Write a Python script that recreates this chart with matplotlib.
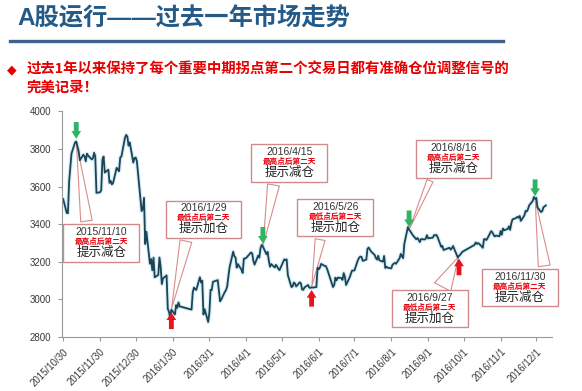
import numpy as np
import pandas as pd
import matplotlib
matplotlib.use("Agg")
import matplotlib.pyplot as plt
import matplotlib.dates as mdates
from matplotlib.offsetbox import TextArea, VPacker, AnnotationBbox

plt.rcParams['font.family'] = ['Liberation Sans', 'Noto Sans CJK SC', 'DejaVu Sans']

# index closes (trading days)
dates = [
    "2015-10-30", "2015-11-02", "2015-11-03", "2015-11-04", "2015-11-05", "2015-11-06", "2015-11-09",
    "2015-11-10", "2015-11-11", "2015-11-12", "2015-11-13", "2015-11-16", "2015-11-17", "2015-11-18",
    "2015-11-19", "2015-11-20", "2015-11-23", "2015-11-24", "2015-11-25", "2015-11-26", "2015-11-27",
    "2015-11-30", "2015-12-01", "2015-12-02", "2015-12-03", "2015-12-04", "2015-12-07", "2015-12-08",
    "2015-12-09", "2015-12-10", "2015-12-11", "2015-12-14", "2015-12-15", "2015-12-16", "2015-12-17",
    "2015-12-18", "2015-12-21", "2015-12-22", "2015-12-23", "2015-12-24", "2015-12-25", "2015-12-28",
    "2015-12-29", "2015-12-30", "2015-12-31",
    "2016-01-04", "2016-01-05", "2016-01-06", "2016-01-07", "2016-01-08", "2016-01-11", "2016-01-12",
    "2016-01-13", "2016-01-14", "2016-01-15", "2016-01-18", "2016-01-19", "2016-01-20", "2016-01-21",
    "2016-01-22", "2016-01-25", "2016-01-26", "2016-01-27", "2016-01-28", "2016-01-29",
    "2016-02-01", "2016-02-02", "2016-02-03", "2016-02-04", "2016-02-05", "2016-02-15", "2016-02-16",
    "2016-02-17", "2016-02-18", "2016-02-19", "2016-02-22", "2016-02-23", "2016-02-24", "2016-02-25",
    "2016-02-26", "2016-02-29",
    "2016-03-01", "2016-03-02", "2016-03-03", "2016-03-04", "2016-03-07", "2016-03-08", "2016-03-09",
    "2016-03-10", "2016-03-11", "2016-03-14", "2016-03-15", "2016-03-16", "2016-03-17", "2016-03-18",
    "2016-03-21", "2016-03-22", "2016-03-23", "2016-03-24", "2016-03-25", "2016-03-28", "2016-03-29",
    "2016-03-30", "2016-03-31",
    "2016-04-01", "2016-04-05", "2016-04-06", "2016-04-07", "2016-04-08", "2016-04-11", "2016-04-12",
    "2016-04-13", "2016-04-14", "2016-04-15", "2016-04-18", "2016-04-19", "2016-04-20", "2016-04-21",
    "2016-04-22", "2016-04-25", "2016-04-26", "2016-04-27", "2016-04-28", "2016-04-29",
    "2016-05-03", "2016-05-04", "2016-05-05", "2016-05-06", "2016-05-09", "2016-05-10", "2016-05-11",
    "2016-05-12", "2016-05-13", "2016-05-16", "2016-05-17", "2016-05-18", "2016-05-19", "2016-05-20",
    "2016-05-23", "2016-05-24", "2016-05-25", "2016-05-26", "2016-05-27", "2016-05-30", "2016-05-31",
    "2016-06-01", "2016-06-02", "2016-06-03", "2016-06-06", "2016-06-07", "2016-06-08", "2016-06-13",
    "2016-06-14", "2016-06-15", "2016-06-16", "2016-06-17", "2016-06-20", "2016-06-21", "2016-06-22",
    "2016-06-23", "2016-06-24", "2016-06-27", "2016-06-28", "2016-06-29", "2016-06-30",
    "2016-07-01", "2016-07-04", "2016-07-05", "2016-07-06", "2016-07-07", "2016-07-08", "2016-07-11",
    "2016-07-12", "2016-07-13", "2016-07-14", "2016-07-15", "2016-07-18", "2016-07-19", "2016-07-20",
    "2016-07-21", "2016-07-22", "2016-07-25", "2016-07-26", "2016-07-27", "2016-07-28", "2016-07-29",
    "2016-08-01", "2016-08-02", "2016-08-03", "2016-08-04", "2016-08-05", "2016-08-08", "2016-08-09",
    "2016-08-10", "2016-08-11", "2016-08-12", "2016-08-15", "2016-08-16", "2016-08-17", "2016-08-18",
    "2016-08-19", "2016-08-22", "2016-08-23", "2016-08-24", "2016-08-25", "2016-08-26", "2016-08-29",
    "2016-08-30", "2016-08-31",
    "2016-09-01", "2016-09-02", "2016-09-05", "2016-09-06", "2016-09-07", "2016-09-08", "2016-09-09",
    "2016-09-12", "2016-09-13", "2016-09-14", "2016-09-19", "2016-09-20", "2016-09-21", "2016-09-22",
    "2016-09-23", "2016-09-26", "2016-09-27", "2016-09-28", "2016-09-29", "2016-09-30",
    "2016-10-10", "2016-10-11", "2016-10-12", "2016-10-13", "2016-10-14", "2016-10-17", "2016-10-18",
    "2016-10-19", "2016-10-20", "2016-10-21", "2016-10-24", "2016-10-25", "2016-10-26", "2016-10-27",
    "2016-10-28", "2016-10-31",
    "2016-11-01", "2016-11-02", "2016-11-03", "2016-11-04", "2016-11-07", "2016-11-08", "2016-11-09",
    "2016-11-10", "2016-11-11", "2016-11-14", "2016-11-15", "2016-11-16", "2016-11-17", "2016-11-18",
    "2016-11-21", "2016-11-22", "2016-11-23", "2016-11-24", "2016-11-25", "2016-11-28", "2016-11-29",
    "2016-11-30",
    "2016-12-01", "2016-12-02", "2016-12-05", "2016-12-06", "2016-12-07", "2016-12-08", "2016-12-09",
]
closes = [
    3534, 3460, 3459, 3627, 3705, 3776, 3835,
    3840, 3815, 3790, 3740, 3770, 3760, 3735,
    3775, 3765, 3745, 3750, 3780, 3760, 3567,
    3570, 3580, 3742, 3760, 3675, 3690, 3620,
    3630, 3612, 3620, 3700, 3690, 3682, 3755,
    3760, 3860, 3875, 3866, 3818, 3835, 3728,
    3752, 3755, 3735,
    3470, 3480, 3540, 3295, 3360, 3190, 3215,
    3155, 3222, 3118, 3130, 3223, 3174, 3082,
    3112, 3128, 2950, 2935, 2900, 2946,
    2920, 2970, 2955, 2984, 2963, 2946, 3037,
    3063, 3054, 3051, 3118, 3090, 3100, 2920,
    2948, 2880,
    2930, 3051, 3050, 3094, 3100, 3103, 3045,
    2990, 3000, 3040, 3050, 3070, 3123, 3171,
    3254, 3230, 3223, 3169, 3188, 3158, 3141,
    3217, 3218,
    3221, 3250, 3245, 3205, 3185, 3233, 3223,
    3272, 3290, 3282, 3240, 3253, 3206, 3174,
    3188, 3170, 3184, 3175, 3163, 3156,
    3213, 3209, 3213, 3130, 3066, 3069, 3090,
    3085, 3069, 3091, 3085, 3053, 3051, 3064,
    3077, 3063, 3061, 3065, 3063, 3066, 3169,
    3160, 3170, 3189, 3178, 3177, 3163, 3066,
    3076, 3116, 3101, 3116, 3114, 3104, 3140,
    3120, 3077, 3117, 3136, 3153, 3154,
    3154, 3210, 3222, 3228, 3226, 3205, 3212,
    3269, 3276, 3265, 3255, 3237, 3221, 3212,
    3232, 3208, 3201, 3231, 3167, 3174, 3169,
    3165, 3184, 3190, 3194, 3190, 3219, 3242,
    3229, 3220, 3296, 3385, 3370, 3363, 3353,
    3343, 3320, 3327, 3317, 3305, 3321, 3319,
    3323, 3342,
    3325, 3326, 3329, 3342, 3341, 3343, 3331,
    3280, 3285, 3263, 3275, 3265, 3272, 3284,
    3269, 3223, 3232, 3238, 3247, 3254,
    3290, 3303, 3295, 3300, 3296, 3275, 3320,
    3321, 3316, 3326, 3363, 3358, 3344, 3335,
    3340, 3336,
    3364, 3344, 3377, 3368, 3375, 3389, 3370,
    3405, 3426, 3433, 3439, 3435, 3444, 3418,
    3447, 3471, 3468, 3480, 3500, 3524, 3545,
    3535,
    3540, 3490, 3465, 3470, 3490, 3495, 3500,
]

tick_dates = ["2015-10-30", "2015-11-30", "2015-12-30", "2016-01-30", "2016-03-01", "2016-04-01",
              "2016-05-01", "2016-06-01", "2016-07-01", "2016-08-01", "2016-09-01", "2016-10-01",
              "2016-11-01", "2016-12-01"]
tick_labels = ["2015/10/30", "2015/11/30", "2015/12/30", "2016/1/30", "2016/3/1", "2016/4/1",
               "2016/5/1", "2016/6/1", "2016/7/1", "2016/8/1", "2016/9/1", "2016/10/1",
               "2016/11/1", "2016/12/1"]

signal_dates = ["2015-11-10", "2016-01-29", "2016-04-15", "2016-05-26", "2016-08-16", "2016-09-27", "2016-11-30"]
signal_labels = ["2015/11/10", "2016/1/29", "2016/4/15", "2016/5/26", "2016/8/16", "2016/9/27", "2016/11/30"]
signal_kinds = ["sell", "buy", "sell", "buy", "sell", "buy", "sell"]

# callout layout: box offset (points), wedge base position on box, wedge base width
box_offsets = [(18, -73), (23, 65), (19, 60), (17, 50), (32, 51), (-21, -38), (-11, -64)]
wedge_relpos = [(0.30, 1), (0.27, 0), (0.29, 0), (0.30, 0), (0.20, 0), (0.64, 1), (0.86, 1)]
wedge_widths = [0.6, 0.62, 0.62, 0.52, 0.33, 0.95, 0.62]

x = pd.to_datetime(dates)
y = np.array(closes)

fig = plt.figure(figsize=(5.82, 3.91), dpi=100)
ax = fig.add_axes([0.1065, 0.138, 0.8415, 0.577])

ax.plot(x, y, color='#d3f0f6', lw=3.0, zorder=1, solid_capstyle='round')
ax.plot(x, y, color='#1f4257', lw=1.3, zorder=2)

ax.set_xlim(pd.Timestamp("2015-10-29"), pd.Timestamp("2016-12-14"))
ax.set_ylim(2800, 4000)
ax.set_yticks([2800, 3000, 3200, 3400, 3600, 3800, 4000])
ax.set_xticks(pd.to_datetime(tick_dates))
ax.set_xticklabels(tick_labels, rotation=45, ha='right', rotation_mode='anchor')
ax.tick_params(axis='both', labelsize=7, labelcolor='#3a3a3a', color='#999999', length=3, width=0.8)
ax.tick_params(axis='x', pad=4)
ax.tick_params(axis='y', pad=5)
for side in ['top', 'right']:
    ax.spines[side].set_visible(False)
for side in ['left', 'bottom']:
    ax.spines[side].set_color('#999999')
    ax.spines[side].set_linewidth(0.8)

lookup = dict(zip(dates, closes))
for i, d in enumerate(signal_dates):
    v = lookup[d]
    xd = mdates.date2num(pd.Timestamp(d))
    sell = signal_kinds[i] == "sell"
    red_txt = "最高点后第二天" if sell else "最低点后第二天"
    main_txt = "提示减仓" if sell else "提示加仓"
    pack = VPacker(children=[
        TextArea(signal_labels[i], textprops=dict(fontsize=7.5, color='#333333')),
        TextArea(red_txt, textprops=dict(fontsize=5.5, color='#e8000b', fontweight='bold')),
        TextArea(main_txt, textprops=dict(fontsize=9, color='#222222')),
    ], align='center', pad=0, sep=0.5, width=70)
    ab = AnnotationBbox(pack, (xd, v), xybox=box_offsets[i], xycoords='data',
                        boxcoords='offset points', pad=0.2, frameon=True,
                        bboxprops=dict(ec='#d08a8a', fc='white', lw=1),
                        arrowprops=dict(arrowstyle='wedge,tail_width=%s,shrink_factor=0.5' % wedge_widths[i],
                                        fc='white', ec='#d98c8c', lw=0.8,
                                        relpos=wedge_relpos[i], shrinkB=1))
    ab.set_zorder(1.5)
    ax.add_artist(ab)
    if sell:
        ax.annotate('', xy=(xd, v), xytext=(0, 14), textcoords='offset points', zorder=4,
                    arrowprops=dict(arrowstyle='simple,head_length=0.55,head_width=0.7,tail_width=0.35',
                                    fc='#2db565', ec='none', shrinkA=0, shrinkB=2))
    else:
        ax.annotate('', xy=(xd, v), xytext=(0, -14), textcoords='offset points', zorder=4,
                    arrowprops=dict(arrowstyle='simple,head_length=0.55,head_width=0.7,tail_width=0.35',
                                    fc='#e8141c', ec='none', shrinkA=0, shrinkB=2))

# header
fig.text(17 / 582, 1 - 19 / 391, "A股运行——过去一年市场走势", fontsize=17.5, fontweight='bold',
         color='#235a88', va='center', ha='left')
fig.add_artist(plt.Line2D([10 / 582, 503 / 582], [1 - 41 / 391, 1 - 41 / 391], color='#3d6486', lw=2.4))
fig.text(7 / 582, 1 - 70 / 391, "◆", fontsize=9, color='#e60000', va='center', ha='left',
         family=['DejaVu Sans'])
fig.text(27 / 582, 1 - 70 / 391, "过去1年以来保持了每个重要中期拐点第二个交易日都有准确仓位调整信号的",
         fontsize=10.4, fontweight='bold', color='#e60000', va='center', ha='left',
         family=['Noto Sans CJK SC', 'DejaVu Sans'])
fig.text(27 / 582, 1 - 89 / 391, "完美记录！", fontsize=10.4, fontweight='bold', color='#e60000',
         va='center', ha='left', family=['Noto Sans CJK SC', 'DejaVu Sans'])

fig.savefig("out.png", dpi=100)
